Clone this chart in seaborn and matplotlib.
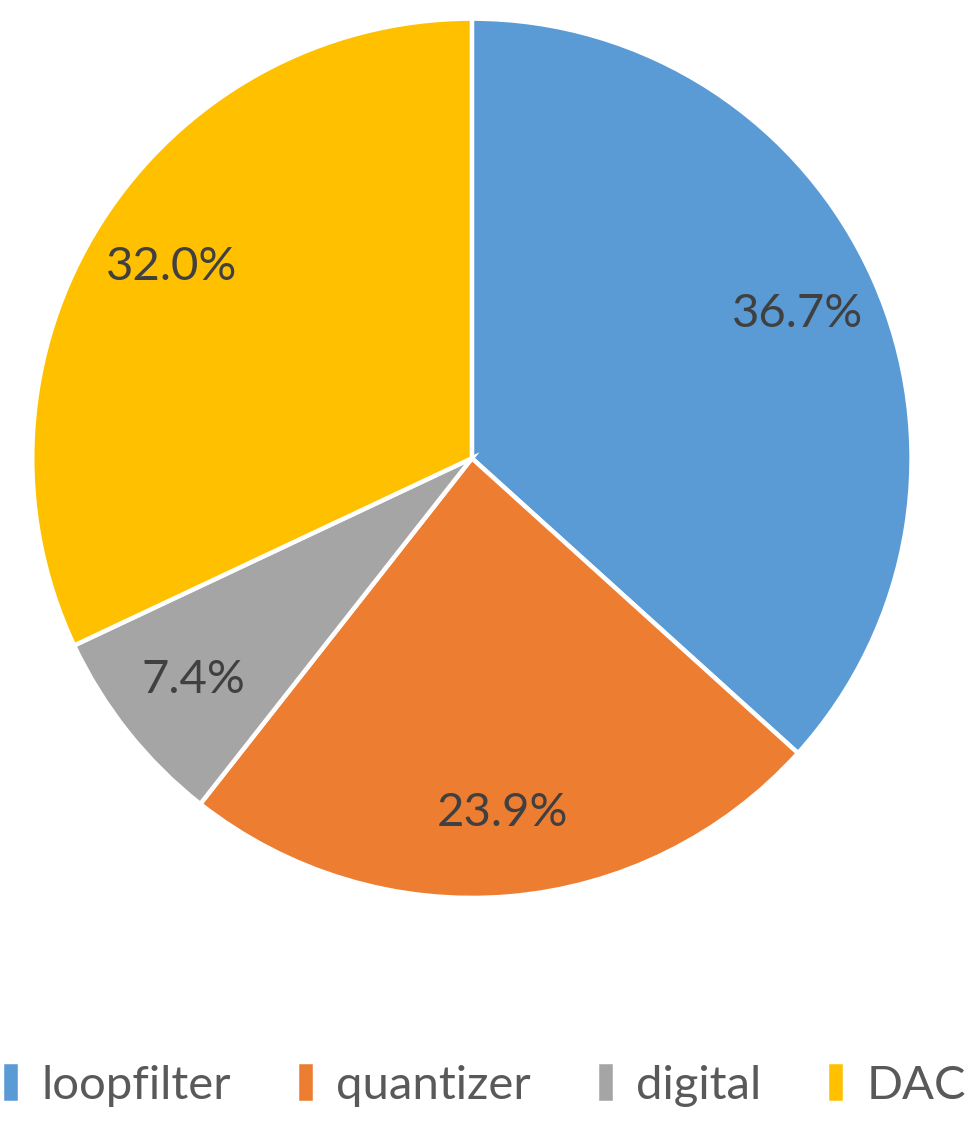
import matplotlib
matplotlib.use("Agg")
import matplotlib.pyplot as plt
import seaborn as sns

labels = ["loopfilter", "quantizer", "digital", "DAC"]
shares = [36.7, 23.9, 7.4, 32.0]
colors = ["#5B9BD5", "#ED7D31", "#A5A5A5", "#FFC000"]

sns.set_theme(style="white")
plt.rcParams['font.family'] = ['Lato', 'DejaVu Sans']

fig = plt.figure(figsize=(9.7, 11.26), dpi=100)
ax = fig.add_axes([0.031, 0.2005, 0.911, 0.785])

wedges, texts, autotexts = ax.pie(
    shares,
    colors=sns.color_palette(colors),
    startangle=90,
    counterclock=False,
    autopct="%.1f%%",
    pctdistance=0.81,
    wedgeprops=dict(edgecolor="white", linewidth=3.2),
    textprops=dict(color="#404040", fontsize=34),
)
ax.set_xlim(-1.005, 1.005)
ax.set_ylim(-1.005, 1.005)
ax.set_aspect("equal")

fig.legend(
    wedges, labels,
    loc="center", bbox_to_anchor=(0.499, 0.037),
    ncol=4, frameon=False, fontsize=34,
    handlelength=0.38, handleheight=0.95, handletextpad=0.45,
    columnspacing=1.4, labelcolor="#595959",
)

plt.savefig("out.png", dpi=100)
